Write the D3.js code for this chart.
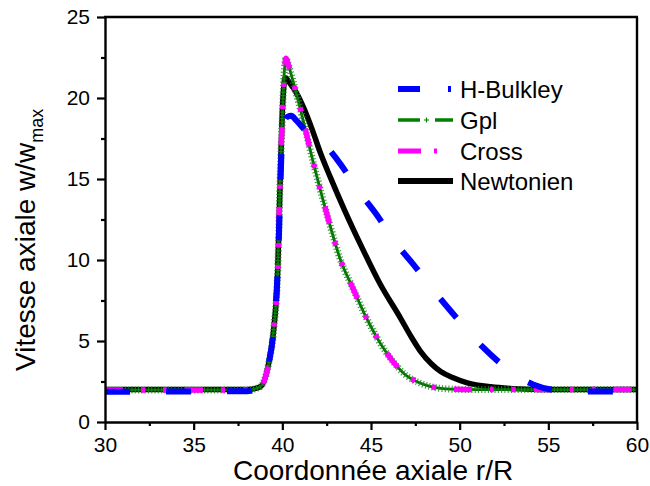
<!DOCTYPE html>
<html>
<head>
<meta charset="utf-8">
<script src="https://cdn.jsdelivr.net/npm/d3@7"></script>
<style>
  html, body { margin: 0; padding: 0; background: #fff; }
  svg { display: block; }
  text { font-family: "Liberation Sans", Arial, sans-serif; fill: #000; }
</style>
</head>
<body>
<svg id="chart" width="650" height="486"></svg>
<script>
// Axial velocity profiles: [r/R, w/wmax] pairs for each rheological model
const hBulkley = [
  [30, 1.87], [38.0, 1.9], [38.76, 2.2], [39.23, 3.6], [39.51, 5.7], [39.74, 9.4],
  [39.89, 14.5], [39.98, 17.5], [40.1, 18.5], [40.3, 18.85], [40.5, 18.9], [40.8, 18.6],
  [41.3, 18.0], [42.15, 17.4], [43.09, 16.2], [44.41, 14.1], [45.25, 12.9], [46.48, 10.93],
  [47.42, 9.69], [48.74, 7.84], [49.77, 6.5], [51.28, 4.65], [52.41, 3.52], [53.3, 2.8],
  [54.18, 2.3], [55.3, 1.98], [56.5, 1.9], [60, 1.87]
];
const gpl = [
  [30, 1.98], [38.0, 1.98], [38.76, 2.18], [39.23, 3.62], [39.51, 5.68], [39.74, 9.38],
  [39.89, 15.56], [40.0, 18.8], [40.1, 21.4], [40.21, 22.45], [40.3, 22.2], [40.45, 21.65],
  [40.64, 20.9], [41.2, 18.5], [41.77, 15.9], [42.15, 14.3], [42.71, 12.06], [43.28, 10.0],
  [43.94, 8.35], [44.8, 6.3], [45.5, 4.9], [46.3, 3.65], [46.9, 2.95], [47.8, 2.39],
  [48.5, 2.15], [49.5, 2.03], [51, 2.0], [60, 2.0]
];
const cross = [
  [30, 1.98], [38.0, 1.98], [38.76, 2.18], [39.23, 3.62], [39.51, 5.68], [39.74, 9.38],
  [39.89, 15.56], [40.0, 18.8], [40.1, 21.4], [40.21, 22.45], [40.3, 22.2], [40.45, 21.65],
  [40.64, 20.9], [41.2, 18.5], [41.77, 15.9], [42.15, 14.3], [42.71, 12.06], [43.28, 10.0],
  [43.94, 8.35], [44.8, 6.3], [45.5, 4.9], [46.3, 3.65], [46.9, 2.95], [47.8, 2.39],
  [48.5, 2.15], [49.5, 2.03], [51, 2.0], [60, 2.0]
];
const newtonien = [
  [30, 2.0], [38.0, 2.0], [38.76, 2.18], [39.23, 3.62], [39.51, 5.68], [39.74, 9.38],
  [39.89, 15.4], [40.0, 19.2], [40.1, 20.9], [40.17, 21.25], [40.4, 20.95], [40.8, 20.3],
  [41.2, 19.4], [41.7, 18.0], [42.15, 16.6], [42.71, 15.1], [43.5, 13.1], [44.5, 10.75],
  [45.5, 8.55], [46.67, 6.4], [47.3, 5.2], [47.8, 4.35], [48.4, 3.6], [48.93, 3.12],
  [49.6, 2.75], [50.43, 2.42], [51.75, 2.17], [53, 2.06], [54.5, 2.01], [60, 2.0]
];

const xMajorTicks = [30, 35, 40, 45, 50, 55, 60];
const xMinorTicks = [32.5, 37.5, 42.5, 47.5, 52.5, 57.5];
const yMajorTicks = [0, 5, 10, 15, 20, 25];
const yMinorTicks = [2.5, 7.5, 12.5, 17.5, 22.5];
const legendLabels = ["H-Bulkley", "Gpl", "Cross", "Newtonien"];

const svg = d3.select("#chart");
const plotLeft = 105, plotRight = 637, plotTop = 17, plotBottom = 422;

const x = d3.scaleLinear().domain([30, 60]).range([plotLeft, plotRight]);
const y = d3.scaleLinear().domain([0, 25]).range([plotBottom, plotTop]);

const line = d3.line()
  .x(d => x(d[0]))
  .y(d => y(d[1]))
  .curve(d3.curveMonotoneX);

const plot = svg.append("g");

// Newtonian profile: solid black
plot.append("path").datum(newtonien)
  .attr("d", line).attr("fill", "none")
  .attr("stroke", "#000").attr("stroke-width", 5.5);

// Generalised power law: green line with dense "+" symbols
plot.append("path").datum(gpl)
  .attr("d", line).attr("fill", "none")
  .attr("stroke", "#006f00").attr("stroke-width", 2.8);
plot.append("path").datum(gpl)
  .attr("d", line).attr("fill", "none")
  .attr("stroke", "#1a8a1a").attr("stroke-width", 7)
  .attr("stroke-dasharray", "1.1,2.2").attr("opacity", 0.85);

// Cross model: magenta dash-dot-dot
plot.append("path").datum(cross)
  .attr("d", line).attr("fill", "none")
  .attr("stroke", "#ff00ff").attr("stroke-width", 5.5)
  .attr("stroke-dasharray", "18,18,4,18,4,18");

// Herschel-Bulkley: blue long dashes
plot.append("path").datum(hBulkley)
  .attr("d", line).attr("fill", "none")
  .attr("stroke", "#0000ff").attr("stroke-width", 6)
  .attr("stroke-dasharray", "25,36");

// Axes
const axisStyle = g => {
  g.select(".domain").attr("stroke-width", 2.4);
  g.selectAll(".tick line").attr("stroke-width", 2.2);
  g.selectAll("text").attr("font-size", 21).attr("font-family", "Liberation Sans, Arial, sans-serif");
};

svg.append("g").attr("transform", `translate(0,${plotBottom})`)
  .call(d3.axisBottom(x).tickValues(xMinorTicks).tickSize(4).tickFormat(""))
  .call(g => g.select(".domain").remove())
  .call(g => g.selectAll(".tick line").attr("stroke-width", 2.2));
svg.append("g").attr("transform", `translate(${plotLeft},0)`)
  .call(d3.axisLeft(y).tickValues(yMinorTicks).tickSize(4).tickFormat(""))
  .call(g => g.select(".domain").remove())
  .call(g => g.selectAll(".tick line").attr("stroke-width", 2.2));

svg.append("g").attr("transform", `translate(0,${plotBottom})`)
  .call(d3.axisBottom(x).tickValues(xMajorTicks).tickSize(8).tickSizeOuter(0).tickPadding(7))
  .call(axisStyle);
svg.append("g").attr("transform", `translate(${plotLeft},0)`)
  .call(d3.axisLeft(y).tickValues(yMajorTicks).tickSize(8).tickSizeOuter(0).tickPadding(7))
  .call(axisStyle);

// Frame top and right
svg.append("line").attr("x1", plotLeft - 1).attr("x2", plotRight + 1).attr("y1", plotTop).attr("y2", plotTop)
  .attr("stroke", "#000").attr("stroke-width", 2.4);
svg.append("line").attr("x1", plotRight).attr("x2", plotRight).attr("y1", plotTop).attr("y2", plotBottom)
  .attr("stroke", "#000").attr("stroke-width", 2.4);

// Axis titles
svg.append("text").attr("x", 233).attr("y", 480)
  .attr("font-size", 28).text("Coordonnée axiale r/R");

const yTitle = svg.append("text")
  .attr("transform", "translate(35,371) rotate(-90)")
  .attr("font-size", 28);
yTitle.append("tspan").text("Vitesse axiale w/w");
yTitle.append("tspan").attr("font-size", 18).attr("dy", 8).text("max");

// Legend
const legendRows = [0, 1, 2, 3].map(i => ({ label: legendLabels[i], y: [89, 120, 151, 181][i] }));
const lg = svg.append("g");
const seg = (yy, color, w, dash) => lg.append("line")
  .attr("x1", 398).attr("x2", 453).attr("y1", yy).attr("y2", yy)
  .attr("stroke", color).attr("stroke-width", w)
  .attr("stroke-dasharray", dash || null);
seg(legendRows[0].y, "#0000ff", 6, "22,28,3,10");
seg(legendRows[1].y, "#008000", 3.5, "22,15,18");
lg.append("path").attr("d", `M424,${legendRows[1].y}h5M426.5,${legendRows[1].y - 2.5}v5`)
  .attr("stroke", "#008000").attr("stroke-width", 1.2);
seg(legendRows[2].y, "#ff00ff", 5, "23,13,3,30");
seg(legendRows[3].y, "#000", 6);

legendRows.forEach(r => {
  lg.append("text").attr("x", 460).attr("y", r.y).attr("dy", "0.36em")
    .attr("font-size", 24).text(r.label);
});
</script>
</body>
</html>
